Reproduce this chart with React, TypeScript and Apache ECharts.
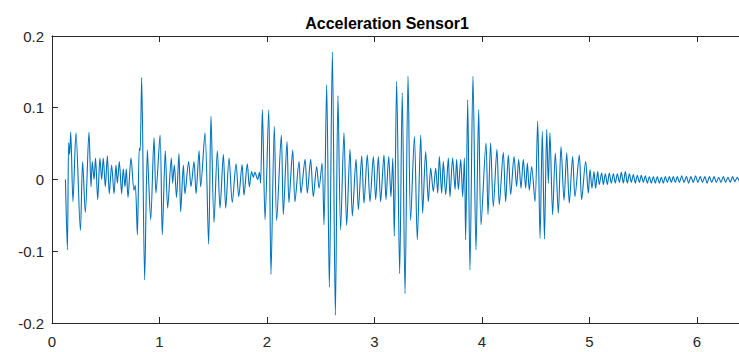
import React, { useEffect, useRef } from "react";
import * as echarts from "echarts";

const TITLE = "Acceleration Sensor1";
const X_TICKS = [0, 1, 2, 3, 4, 5, 6];
const Y_TICKS = [-0.2, -0.1, 0, 0.1, 0.2];

// time (s) of each read-off turning point
const TIMES: number[] = [
  0.125, 0.13, 0.143, 0.155, 0.164, 0.174, 0.195, 0.223, 0.264, 0.285, 0.31, 0.344, 0.363, 0.375, 0.391, 0.405,
  0.425, 0.446, 0.462, 0.477, 0.496, 0.515, 0.533, 0.555, 0.577, 0.595, 0.608, 0.626, 0.648, 0.663, 0.679,
  0.691, 0.707, 0.735,
  0.763, 0.775, 0.794, 0.812, 0.82, 0.834, 0.862, 0.887, 0.899, 0.918, 0.949, 0.967, 1.005, 1.026, 1.054,
  1.076, 1.11, 1.122, 1.138, 1.158, 1.181, 1.197, 1.222, 1.237, 1.271, 1.293, 1.321, 1.34, 1.368, 1.383,
  1.423, 1.457, 1.479, 1.507, 1.538, 1.563, 1.594, 1.616, 1.647,
  1.677, 1.712, 1.737, 1.768, 1.786, 1.817, 1.836, 1.857, 1.873, 1.888, 1.913, 1.929, 1.94, 1.957, 1.982,
  2.016, 2.037, 2.068, 2.09, 2.133, 2.152, 2.186, 2.204, 2.239, 2.26, 2.298, 2.316, 2.354, 2.375, 2.406,
  2.431, 2.462, 2.484,
  2.512, 2.53, 2.555, 2.58, 2.608, 2.636, 2.66, 2.685, 2.716, 2.741, 2.772, 2.794, 2.828, 2.85, 2.881,
  2.902, 2.933, 2.958, 2.989, 3.011, 3.036, 3.057, 3.088, 3.107, 3.132, 3.153, 3.17, 3.184, 3.206, 3.234,
  3.258,
  3.284, 3.312, 3.336, 3.371, 3.398, 3.43, 3.448, 3.476, 3.501, 3.523, 3.547, 3.569, 3.588, 3.603, 3.625,
  3.64, 3.662, 3.687, 3.702, 3.727, 3.749, 3.764, 3.78, 3.802, 3.82, 3.836, 3.848, 3.867, 3.888, 3.916,
  3.944, 3.969, 3.991, 4.037, 4.056, 4.08, 4.105, 4.139, 4.161,
  4.198, 4.22, 4.245, 4.267, 4.298, 4.322, 4.341, 4.363, 4.384, 4.406, 4.422, 4.44, 4.462, 4.493, 4.518,
  4.54, 4.561, 4.581, 4.602, 4.617, 4.632, 4.657, 4.682, 4.71, 4.735, 4.763, 4.788, 4.812, 4.843, 4.865,
  4.905, 4.927, 4.964, 4.989,
  5.005, 5.023, 5.042, 5.057, 5.076, 5.091, 5.113, 5.129, 5.147, 5.166, 5.184, 5.203, 5.222, 5.24, 5.259,
  5.278, 5.296, 5.315, 5.333, 5.352, 5.371, 5.389, 5.408, 5.426, 5.445, 5.464, 5.482, 5.501, 5.519, 5.538,
  5.557, 5.575, 5.594, 5.612, 5.631, 5.65, 5.668, 5.687, 5.705, 5.724, 5.743, 5.761, 5.78, 5.798, 5.817,
  5.836, 5.858, 5.879, 5.901, 5.922, 5.944, 5.965, 5.987, 6.008, 6.03, 6.051, 6.073, 6.094, 6.116, 6.137,
  6.159, 6.18, 6.202, 6.223, 6.245, 6.266, 6.288, 6.309, 6.331, 6.352, 6.374, 6.395,
];

// acceleration at each of those turning points
const ACCEL: number[] = [
  0.0, 0.0, -0.098, 0.051, 0.035, 0.066, -0.031, 0.065, -0.071, 0.025, -0.046, 0.066, -0.01, 0.025, 0.0, 0.03,
  -0.028, 0.03, 0.0, 0.03, -0.01, 0.033, -0.02, 0.02, -0.02, 0.02, -0.005, 0.025, -0.02, 0.015, -0.01,
  0.015, -0.025, 0.03,
  -0.015, -0.008, -0.077, 0.044, 0.04, 0.142, -0.14, 0.041, 0.0, -0.056, 0.058, -0.019, 0.062, -0.077, 0.04,
  -0.04, 0.03, -0.005, 0.02, -0.025, 0.036, -0.045, 0.02, -0.02, 0.025, -0.01, 0.025, -0.02, 0.04, -0.01,
  0.065, -0.09, 0.088, -0.06, 0.04, -0.04, 0.035, -0.04, 0.03,
  -0.032, 0.022, -0.024, 0.021, -0.022, 0.022, -0.01, 0.011, 0.003, 0.01, 0.0, 0.01, -0.005, 0.097, -0.056,
  0.097, -0.132, 0.074, -0.057, 0.062, -0.049, 0.053, -0.032, 0.041, -0.031, 0.025, -0.019, 0.028, -0.019, 0.028,
  -0.024, 0.018, -0.012,
  0.023, -0.063, 0.132, -0.15, 0.178, -0.189, 0.117, -0.07, 0.065, -0.064, 0.042, -0.051, 0.028, -0.042, 0.033,
  -0.033, 0.034, -0.031, 0.032, -0.028, 0.032, -0.031, 0.034, -0.028, 0.032, -0.024, 0.03, -0.079, 0.137, -0.131,
  0.121,
  -0.159, 0.144, -0.057, 0.06, -0.084, 0.062, -0.047, 0.039, -0.031, 0.016, -0.017, 0.016, -0.019, 0.032, -0.019,
  0.025, -0.021, 0.03, -0.024, 0.03, -0.014, 0.028, -0.014, 0.028, -0.024, 0.03, -0.084, 0.111, -0.126, 0.144,
  -0.098, 0.097, -0.063, 0.051, -0.049, 0.051, -0.038, 0.042, -0.035,
  0.038, -0.031, 0.034, -0.021, 0.032, -0.01, 0.028, -0.012, 0.028, -0.012, 0.023, -0.015, 0.018, -0.031, 0.081,
  -0.082, 0.067, -0.083, 0.07, -0.005, 0.065, -0.049, 0.037, -0.047, 0.046, -0.029, 0.037, -0.033, 0.032, -0.024,
  0.034, -0.028, 0.025, -0.019,
  0.014, -0.012, 0.011, -0.012, 0.011, -0.007, 0.009, -0.007, 0.008, -0.007, 0.009, -0.005, 0.008, -0.005, 0.008,
  -0.004, 0.01, -0.005, 0.011, -0.005, 0.008, -0.004, 0.007, -0.005, 0.006, -0.004, 0.006, -0.004, 0.005, -0.005,
  0.004, -0.005, 0.004, -0.005, 0.004, -0.005, 0.003, -0.005, 0.004, -0.004, 0.004, -0.004, 0.004, -0.004, 0.004,
  -0.004, 0.005, -0.004, 0.004, -0.005, 0.004, -0.004, 0.005, -0.004, 0.004, -0.004, 0.004, -0.005, 0.004, -0.004,
  0.004, -0.004, 0.003, -0.004, 0.004, -0.004, 0.003, -0.004, 0.004, -0.003, 0.003, -0.003,
];

const FONT = "'Liberation Sans', Arial, Helvetica, sans-serif";
const AX = "#262626";

export default function App() {
  const ref = useRef<HTMLDivElement>(null);
  useEffect(() => {
    if (!ref.current) return;
    const chart = echarts.init(ref.current, undefined, { renderer: "svg" });
    const data = TIMES.map((t, i) => [t, ACCEL[i]]);
    const xMin = X_TICKS[0];
    const yMin = Y_TICKS[0];
    const yMax = Y_TICKS[Y_TICKS.length - 1];
    const tick = { show: true, inside: true, length: 6, lineStyle: { color: AX } };
    chart.setOption({
      animation: false,
      backgroundColor: "#ffffff",
      grid: { left: 52, top: 36, width: 688, height: 287, containLabel: false },
      graphic: [
        {
          type: "text",
          x: 387,
          y: 23,
          style: {
            text: TITLE,
            fill: "#000000",
            font: `bold 16px ${FONT}`,
            textAlign: "center",
            textVerticalAlign: "middle",
          },
        },
      ],
      xAxis: [
        {
          type: "value",
          min: xMin,
          max: 6.4,
          interval: 1,
          position: "bottom",
          splitLine: { show: false },
          axisLine: { show: true, onZero: false, lineStyle: { color: AX, width: 1 } },
          axisTick: tick,
          axisLabel: {
            show: true,
            margin: 11,
            color: AX,
            fontSize: 15,
            fontFamily: FONT,
            showMaxLabel: false,
            formatter: (v: number) => (Number.isInteger(v) ? String(v) : ""),
          },
        },
        {
          type: "value",
          min: xMin,
          max: 6.4,
          interval: 1,
          position: "top",
          splitLine: { show: false },
          axisLine: { show: true, onZero: false, lineStyle: { color: AX, width: 1 } },
          axisTick: tick,
          axisLabel: { show: false },
        },
      ],
      yAxis: [
        {
          type: "value",
          min: yMin,
          max: yMax,
          interval: 0.1,
          splitLine: { show: false },
          axisLine: { show: true, onZero: false, lineStyle: { color: AX, width: 1 } },
          axisTick: tick,
          axisLabel: {
            margin: 8,
            color: AX,
            fontSize: 15,
            fontFamily: FONT,
            formatter: (v: number) => String(Math.round(v * 10) / 10),
          },
        },
      ],
      series: [
        {
          type: "line",
          data,
          showSymbol: false,
          symbol: "none",
          smooth: 0.3,
          lineStyle: { color: "#0072BD", width: 1.1 },
          xAxisIndex: 0,
          yAxisIndex: 0,
          clip: true,
        },
      ],
    });
    return () => chart.dispose();
  }, []);
  return (
    <div
      ref={ref}
      style={{ position: "fixed", left: 0, top: 0, width: 745, height: 352, background: "#fff" }}
    />
  );
}
